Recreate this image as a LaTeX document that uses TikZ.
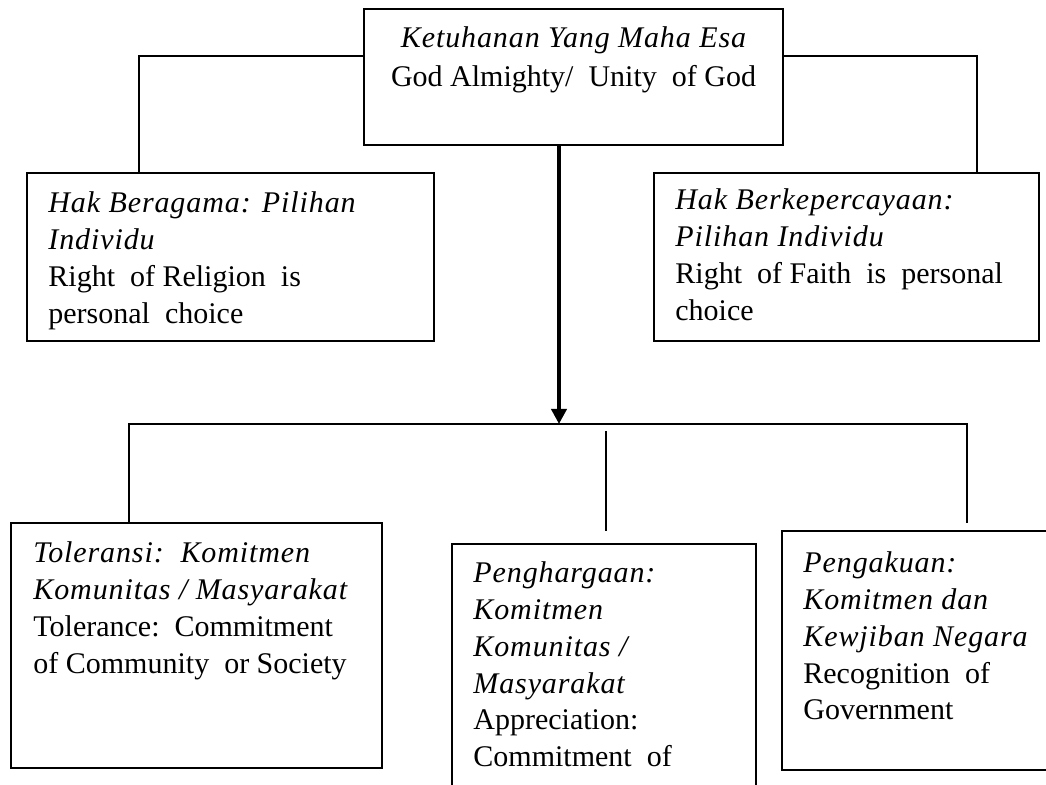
\documentclass[tikz,border=0pt]{standalone}
\usepackage{fontspec}
\setmainfont{Liberation Serif}[ItalicFeatures={LetterSpace=3}]
\usetikzlibrary{arrows.meta,calc,fit}

% one unit = one pixel of a 1046 x 785 sheet, y pointing down
\tikzset{
  x=0.5pt, y=-0.5pt,
  box/.style={draw, line width=1pt, inner sep=0pt, fill=none},
  link/.style={draw, line width=0.75pt},
  mainarrow/.style={line width=2pt, -{Triangle[length=7.5pt,width=7.5pt]}},
  txt/.style={inner sep=0pt, font=\fontsize{15pt}{18.35pt}\selectfont},
}
\newcommand{\leftlines}[1]{\begin{tabular}[t]{@{}l@{}}#1\end{tabular}}
\newcommand{\centerlines}[1]{\begin{tabular}[t]{@{}c@{}}#1\end{tabular}}

\begin{document}
\begin{tikzpicture}
  \useasboundingbox (0,0) rectangle (1046,785);
  \clip (0,0) rectangle (1046,785);

  % boxes
  \node[box, fit={(364,9) (783,145)}]   (top)   {};
  \node[box, fit={(27,173) (434,341)}]  (lbox)  {};
  \node[box, fit={(654,173) (1039,341)}] (rbox) {};
  \node[box, fit={(11,523) (382,768)}]  (blbox) {};
  \node[box, fit={(452,544) (756,800)}] (mbox)  {};
  \node[box, fit={(782,531) (1060,770)}] (brbox) {};

  % texts
  \node[txt, anchor=base, font=\fontsize{15pt}{19.5pt}\selectfont] (toptext) at (573.5,48)
    {\centerlines{\itshape Ketuhanan Yang Maha Esa\\ God Almighty/\ \ Unity\ \ of God}};
  \node[txt, anchor=base west] (ltext) at (48,213)
    {\leftlines{\itshape Hak Beragama: Pilihan\\ \itshape Individu\\ Right\ \ of Religion\ \ is\\ personal\ \ choice}};
  \node[txt, anchor=base west] (rtext) at (675,210)
    {\leftlines{\itshape Hak Berkepercayaan:\\ \itshape Pilihan Individu\\ Right\ \ of Faith\ \ is\ \ personal\\ choice}};
  \node[txt, anchor=base west] (bltext) at (33,563)
    {\leftlines{\itshape Toleransi:\ \ Komitmen\\ \itshape Komunitas / Masyarakat\\ Tolerance:\ \ Commitment\\ of Community\ \ or Society}};
  \node[txt, anchor=base west] (mtext) at (473,583)
    {\leftlines{\itshape Penghargaan:\\ \itshape Komitmen\\ \itshape Komunitas /\\ \itshape Masyarakat\\ Appreciation:\\ Commitment\ \ of}};
  \node[txt, anchor=base west] (brtext) at (803,573)
    {\leftlines{\itshape Pengakuan:\\ \itshape Komitmen dan\\ \itshape Kewjiban Negara\\ Recognition\ \ of\\ Government}};

  % connectors from the top box to the two upper boxes
  \draw[link] ($(top.north west)+(0,48)$) -| ($(lbox.north west)+(113,0)$);
  \draw[link] ($(top.north east)+(0,48)$) -| ($(rbox.north west)+(324,0)$);

  % distribution bus to the lower row
  \coordinate (busR)  at (967,424);
  \coordinate (rdrop) at (967,523);
  \coordinate (mtop)  at (606,431);
  \coordinate (mbot)  at (606,531);
  \draw[link] ($(blbox.north west)+(119,0)$) |- (busR) -- (rdrop);
  \draw[link] (mtop) -- (mbot);

  % main arrow down to the bus
  \coordinate (stem) at ($(top.south west)+(196,0)$);
  \draw[mainarrow] (stem) -- (stem |- busR);
\end{tikzpicture}
\end{document}
